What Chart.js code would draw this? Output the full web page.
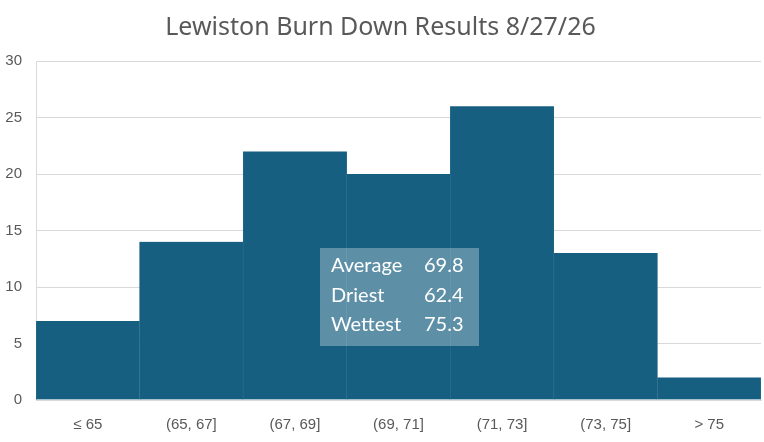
<!DOCTYPE html>
<html>
<head>
<meta charset="utf-8">
<script src="https://cdn.jsdelivr.net/npm/chart.js@4"></script>
<style>
  html, body { margin: 0; padding: 0; background: #fff; }
  #wrap { width: 764px; height: 442px; }
</style>
</head>
<body>
<div id="wrap"><canvas id="myChart"></canvas></div>
<script>
const bins = ['≤ 65', '(65, 67]', '(67, 69]', '(69, 71]', '(71, 73]', '(73, 75]', '> 75'];
const counts = [7, 14, 22, 20, 26, 13, 2];
const yTicks = [0, 5, 10, 15, 20, 25, 30];
const statNames = ['Average', 'Driest', 'Wettest'];
const statValues = ['69.8', '62.4', '75.3'];

const ctx = document.getElementById('myChart');

// stats box drawn over the bars
const statsBox = {
  id: 'statsBox',
  afterDatasetsDraw(chart) {
    const c = chart.ctx;
    const area = chart.chartArea;
    const x = area.left + 284;
    const y = area.top + 187;
    c.save();
    c.fillStyle = 'rgba(255,255,255,0.3)';
    c.fillRect(x, y, 159, 98);
    c.fillStyle = '#ffffff';
    c.font = '20px Lato';
    c.textBaseline = 'middle';
    statNames.forEach((name, i) => {
      c.fillText(name, x + 11, y + 18 + i * 29.5);
      c.fillText(statValues[i], x + 104, y + 18 + i * 29.5);
    });
    c.restore();
  },
};

new Chart(ctx, {
  type: 'bar',
  data: {
    labels: bins,
    datasets: [
      {
        data: counts,
        backgroundColor: '#175f80',
        borderColor: '#3a7693',
        borderWidth: { left: 0.5, right: 0.5, top: 0, bottom: 0 },
        borderSkipped: false,
        barPercentage: 1,
        categoryPercentage: 1,
      },
    ],
  },
  options: {
    responsive: true,
    maintainAspectRatio: false,
    animation: false,
    layout: { padding: { top: 13, right: 3, left: 0, bottom: 0 } },
    plugins: {
      legend: { display: false },
      tooltip: { enabled: false },
      title: {
        display: true,
        text: 'Lewiston Burn Down Results 8/27/26',
        color: '#595959',
        font: { family: 'Noto Sans', size: 25, weight: 'normal' },
        padding: { top: 0, bottom: 18 },
      },
    },
    scales: {
      x: {
        grid: { display: false },
        border: { color: '#d9d9d9', width: 1 },
        ticks: {
          color: '#595959',
          font: { family: 'Liberation Sans', size: 15 },
          padding: 8,
        },
      },
      y: {
        min: 0,
        max: 30,
        afterBuildTicks(axis) {
          axis.ticks = yTicks.map(v => ({ value: v }));
        },
        afterFit(axis) {
          axis.width = 36;
        },
        grid: { color: '#d9d9d9', drawTicks: false },
        border: { color: '#d9d9d9', width: 1 },
        ticks: {
          color: '#595959',
          font: { family: 'Liberation Sans', size: 15 },
          padding: 14,
        },
      },
    },
  },
  plugins: [statsBox],
});
</script>
</body>
</html>
